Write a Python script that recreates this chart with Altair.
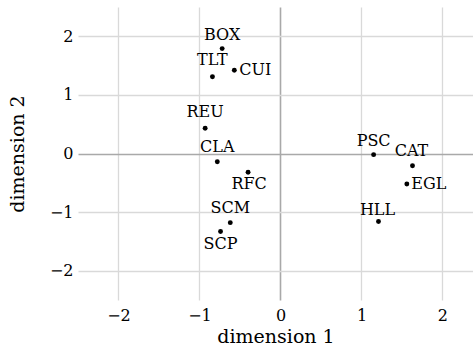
import altair as alt
import pandas as pd

# Coordinates of each item on the two scaling dimensions
codes = ["BOX", "TLT", "CUI", "REU", "CLA", "RFC", "SCM", "SCP",
         "PSC", "CAT", "EGL", "HLL"]
dim1 = [-0.72, -0.84, -0.57, -0.93, -0.78, -0.40, -0.62, -0.74,
        1.15, 1.63, 1.56, 1.21]
dim2 = [1.79, 1.31, 1.42, 0.43, -0.14, -0.32, -1.18, -1.33,
        -0.02, -0.21, -0.52, -1.16]

axis_ticks = [-2, -1, 0, 1, 2]

# Label nudges (pixels) so text sits clear of its point
nudge = {
    "BOX": (0, -14), "TLT": (0, -17), "CUI": (21, 0), "REU": (0, -16),
    "CLA": (0, -15), "RFC": (1, 12), "SCM": (0, -15), "SCP": (0, 13),
    "PSC": (0, -14), "CAT": (-1, -15), "EGL": (22, 0), "HLL": (-1, -11),
}

W, H = 395, 293
XDOM = [-2.5, 2.377]
YDOM = [-2.5, 2.5]
px_x = W / (XDOM[1] - XDOM[0])   # pixels per unit, horizontal
px_y = H / (YDOM[1] - YDOM[0])   # pixels per unit, vertical

df = pd.DataFrame({"code": codes, "d1": dim1, "d2": dim2})
df["nx"] = [nudge[c][0] for c in codes]
df["ny"] = [nudge[c][1] for c in codes]

FONT = "DejaVu Serif"

grid_color = {"condition": {"test": "datum.value === 0", "value": "#a9a9a9"},
              "value": "#d9d9d9"}
grid_width = {"condition": {"test": "datum.value === 0", "value": 1.6},
              "value": 1.3}

xscale = alt.Scale(domain=XDOM, nice=False, zero=False)
yscale = alt.Scale(domain=YDOM, nice=False, zero=False)

x_axis = alt.Axis(title="dimension 1", values=axis_ticks, ticks=False,
                  domain=False, gridColor=grid_color, gridWidth=grid_width,
                  labelPadding=7, titlePadding=4)
y_axis = alt.Axis(title="dimension 2", values=axis_ticks, ticks=False,
                  domain=False, gridColor=grid_color, gridWidth=grid_width,
                  labelPadding=5, titlePadding=22)

points = alt.Chart(df).mark_circle(size=24, color="black", opacity=1).encode(
    x=alt.X("d1:Q", scale=xscale, axis=x_axis),
    y=alt.Y("d2:Q", scale=yscale, axis=y_axis),
)

labels = alt.Chart(df).transform_calculate(
    lx=f"datum.d1 + datum.nx / {px_x}",
    ly=f"datum.d2 - datum.ny / {px_y}",
).mark_text(
    font=FONT, fontSize=16, color="black", align="center", baseline="middle"
).encode(
    x=alt.X("lx:Q", scale=xscale, axis=x_axis),
    y=alt.Y("ly:Q", scale=yscale, axis=y_axis),
    text="code:N",
)

chart = (points + labels).properties(
    width=W, height=H,
    background="white",
    autosize=alt.AutoSizeParams(type="none"),
    padding={"left": 78, "top": 7, "right": 0, "bottom": 58},
).configure_view(stroke=None).configure_axis(
    labelFont=FONT, labelFontSize=16, labelColor="black",
    titleFont=FONT, titleFontSize=19, titleFontWeight="normal",
    titleColor="black",
)

chart.save("out.html", embed_options={"renderer": "svg", "actions": False})
